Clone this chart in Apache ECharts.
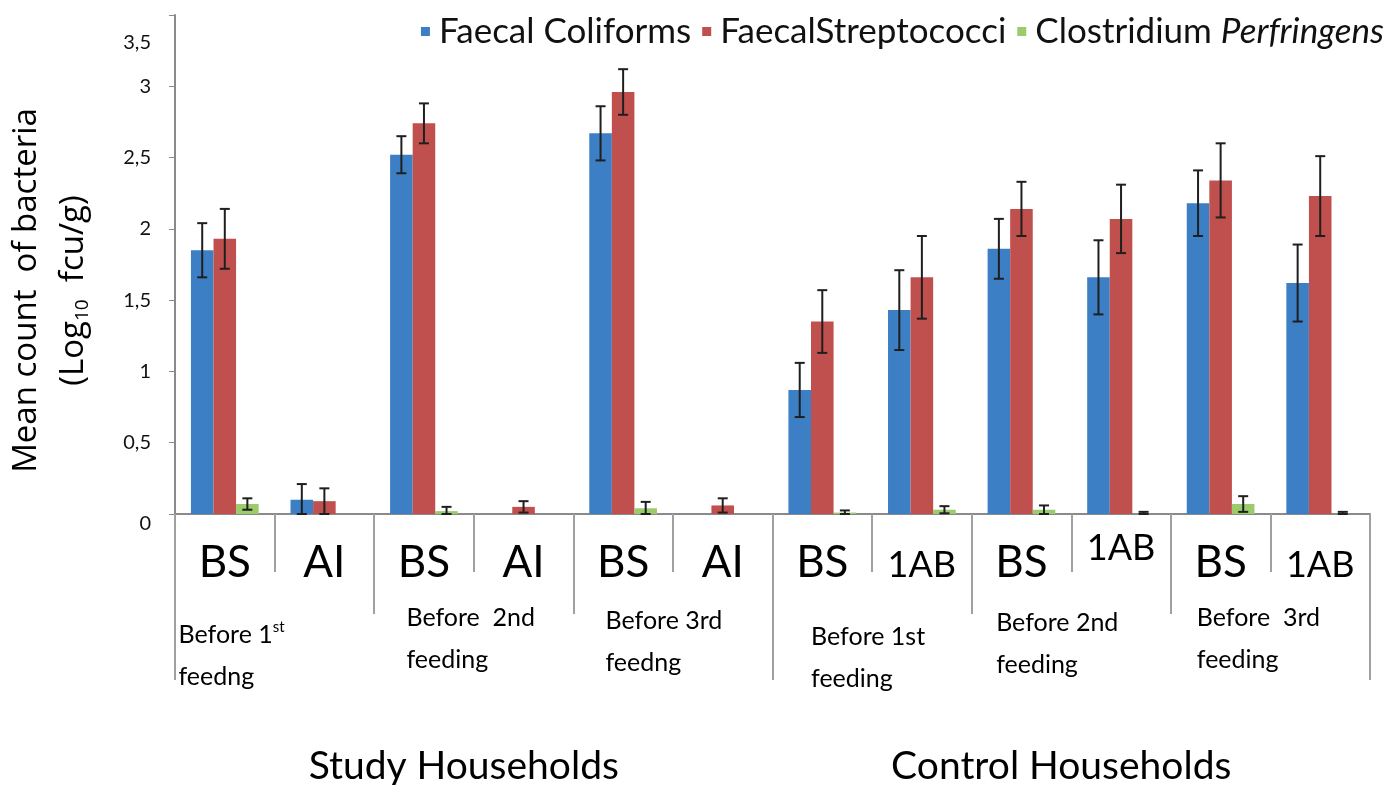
<!DOCTYPE html>
<html>
<head>
<meta charset="utf-8">
<style>
  html, body { margin: 0; padding: 0; background: #fff; }
  #chart { width: 1393px; height: 785px; }
</style>
<script src="https://cdn.jsdelivr.net/npm/echarts@6/dist/echarts.min.js"></script>
</head>
<body>
<div id="chart"></div>
<script>
// categories on the three levels of the x axis
var categories = ['BS', 'AI', 'BS', 'AI', 'BS', 'AI', 'BS', '1AB', 'BS', '1AB', 'BS', '1AB']
var feedings = [
  '{l|Before 1}{sup|st}\n{l|feedng}',
  '{l|Before  2nd}\n{l|feeding}',
  '{l|Before 3rd}\n{l|feedng}',
  '{l|Before 1st}\n{l|feeding}',
  '{l|Before 2nd}\n{l|feeding}',
  '{l|Before  3rd}\n{l|feeding}'
]
var households = ['Study Households', 'Control Households']

var seriesNames = ['Faecal Coliforms', 'FaecalStreptococci', 'Clostridium Perfringens']

// mean counts (log10 fcu/g)
var coliforms = [1.85, 0.10, 2.52, 0, 2.67, 0, 0.87, 1.43, 1.86, 1.66, 2.18, 1.62]
var streptococci = [1.93, 0.09, 2.74, 0.05, 2.96, 0.06, 1.35, 1.66, 2.14, 2.07, 2.34, 2.23]
var perfringens = [0.07, 0, 0.02, 0, 0.04, 0, 0.01, 0.03, 0.03, 0, 0.07, 0]

// error bar half-lengths
var coliformsErr = [0.19, 0.11, 0.13, 0, 0.19, 0, 0.19, 0.28, 0.21, 0.26, 0.23, 0.27]
var streptococciErr = [0.21, 0.09, 0.14, 0.04, 0.16, 0.05, 0.22, 0.29, 0.19, 0.24, 0.26, 0.28]
var perfringensErr = [0.04, 0, 0.03, 0, 0.045, 0, 0.015, 0.025, 0.03, 0.015, 0.055, 0.015]

var colors = ['#3d7fc4', '#c0504d', '#9bcb6b']
var CATEGORY_GAP = 0.32

var chart = echarts.init(document.getElementById('chart'))

function errorSeries(values, errors, idx) {
  var data = values.map(function (v, i) {
    return [i, v, errors[i]]
  })
  return {
    type: 'custom',
    xAxisIndex: 0,
    yAxisIndex: 0,
    z: 10,
    silent: true,
    data: data,
    renderItem: function (params, api) {
      var err = api.value(2)
      if (!err) {
        return
      }
      var val = api.value(1)
      var bandW = api.size([1, 0])[0]
      var barW = bandW * (1 - CATEGORY_GAP) / 3
      var x = api.coord([api.value(0), val])[0] + (idx - 1) * barW
      var yTop = api.coord([0, val + err])[1]
      var yBot = api.coord([0, Math.max(0, val - err)])[1]
      var cap = 5
      var style = { stroke: '#1f1f1f', lineWidth: 2 }
      return {
        type: 'group',
        children: [
          { type: 'line', shape: { x1: x, y1: yTop, x2: x, y2: yBot }, style: style },
          { type: 'line', shape: { x1: x - cap, y1: yTop, x2: x + cap, y2: yTop }, style: style },
          { type: 'line', shape: { x1: x - cap, y1: yBot, x2: x + cap, y2: yBot }, style: style }
        ]
      }
    }
  }
}

function barSeries(name, values, color) {
  return {
    name: name,
    type: 'bar',
    barGap: '0%',
    barCategoryGap: (CATEGORY_GAP * 100) + '%',
    itemStyle: { color: color },
    data: values
  }
}

// per-label nudges of the feeding labels, as placed in the picture
var feedingPads = [[17, 86, 0, 0], [0, 6, 0, 0], [3, 18, 0, 0], [19, 8, 0, 0], [5, 28, 0, 0], [0, 24, 0, 0]]

var feedRich = {
  l: { fontFamily: 'Lato', fontSize: 25, lineHeight: 42, color: '#000', align: 'left' },
  sup: { fontFamily: 'Lato', fontSize: 15, color: '#000', align: 'left', padding: [0, 0, 16, 0] }
}

chart.setOption({
  animation: false,
  textStyle: { fontFamily: 'Lato' },
  color: colors,
  legend: {
    data: seriesNames,
    right: 4,
    top: 9,
    itemWidth: 9,
    itemHeight: 9,
    itemGap: 11,
    icon: 'rect',
    textStyle: {
      fontFamily: 'Lato',
      fontSize: 35,
      color: '#111',
      padding: [0, 0, 0, 4],
      rich: {
        i: { fontFamily: 'Lato', fontSize: 35, fontStyle: 'italic', color: '#111' }
      }
    },
    formatter: function (name) {
      return name === 'Clostridium Perfringens' ? 'Clostridium {i|Perfringens}' : name
    }
  },
  grid: {
    left: 175,
    right: 23,
    top: 15,
    bottom: 271,
    outerBoundsMode: 'none'
  },
  xAxis: [
    {
      type: 'category',
      data: categories,
      position: 'bottom',
      offset: 0,
      axisLine: { show: true, lineStyle: { color: '#8a8a8a', width: 2 } },
      axisTick: { show: true, length: 58, lineStyle: { color: '#a0a0a0', width: 2 } },
      axisLabel: {
        interval: 0,
        margin: 10,
        color: '#000',
        formatter: function (v, i) {
          if (v !== '1AB') return '{b|' + v + '}'
          return i === 9 ? '{h|1AB}' : '{s|1AB}'
        },
        rich: {
          b: { fontFamily: 'Lato', fontSize: 44, color: '#000', padding: [17, 0, 0, 0] },
          s: { fontFamily: 'Lato', fontSize: 36, color: '#000', padding: [23, 0, 0, 0] },
          h: { fontFamily: 'Lato', fontSize: 36, color: '#000', padding: [6, 0, 0, 0] }
        }
      }
    },
    {
      type: 'category',
      data: feedings.map(function (f, i) {
        return { value: f, textStyle: { padding: feedingPads[i] } }
      }),
      position: 'bottom',
      offset: 0,
      axisLine: { show: false },
      axisTick: { show: true, length: 100, lineStyle: { color: '#a0a0a0', width: 2 } },
      axisLabel: {
        interval: 0,
        margin: 83,
        fontFamily: 'Lato',
        fontSize: 25,
        lineHeight: 42,
        color: '#000',
        rich: feedRich
      }
    },
    {
      type: 'category',
      data: households,
      position: 'bottom',
      offset: 0,
      axisLine: { show: false },
      axisTick: { show: true, length: 166, lineStyle: { color: '#a0a0a0', width: 2 } },
      axisLabel: {
        interval: 0,
        margin: 233,
        fontFamily: 'Lato',
        fontSize: 39,
        color: '#000',
        padding: [0, 20, 0, 0]
      }
    }
  ],
  yAxis: {
    type: 'value',
    min: 0,
    max: 3.5,
    interval: 0.5,
    name: 'Mean count  of bacteria\n(Log{sub|10}  fcu/g)',
    nameLocation: 'middle',
    nameRotate: 90,
    nameGap: 78,
    nameTextStyle: {
      fontFamily: 'Open Sans',
      fontSize: 33,
      lineHeight: 47,
      color: '#000',
      padding: [0, 52, 0, 0],
      rich: {
        sub: { fontFamily: 'Open Sans', fontSize: 19, color: '#000', padding: [18, 0, 0, 0] }
      }
    },
    splitLine: { show: false },
    axisLine: { show: true, lineStyle: { color: '#8a8a8a', width: 2 } },
    axisTick: { show: true, length: 6, lineStyle: { color: '#8a8a8a' } },
    axisLabel: {
      margin: 24,
      fontFamily: 'Lato',
      fontSize: 20,
      color: '#111',
      formatter: function (v) {
        var s = String(v).replace('.', ',')
        if (v === 3.5) return '{top|' + s + '}'
        if (v === 0) return '{zero|' + s + '}'
        return s
      },
      rich: {
        top: { fontFamily: 'Lato', fontSize: 20, color: '#111', padding: [56, 0, 0, 0] },
        zero: { fontFamily: 'Lato', fontSize: 20, color: '#111', padding: [20, 0, 0, 0] }
      }
    }
  },
  series: [
    barSeries(seriesNames[0], coliforms, colors[0]),
    barSeries(seriesNames[1], streptococci, colors[1]),
    barSeries(seriesNames[2], perfringens, colors[2]),
    errorSeries(coliforms, coliformsErr, 0),
    errorSeries(streptococci, streptococciErr, 1),
    errorSeries(perfringens, perfringensErr, 2)
  ]
})
</script>
</body>
</html>
